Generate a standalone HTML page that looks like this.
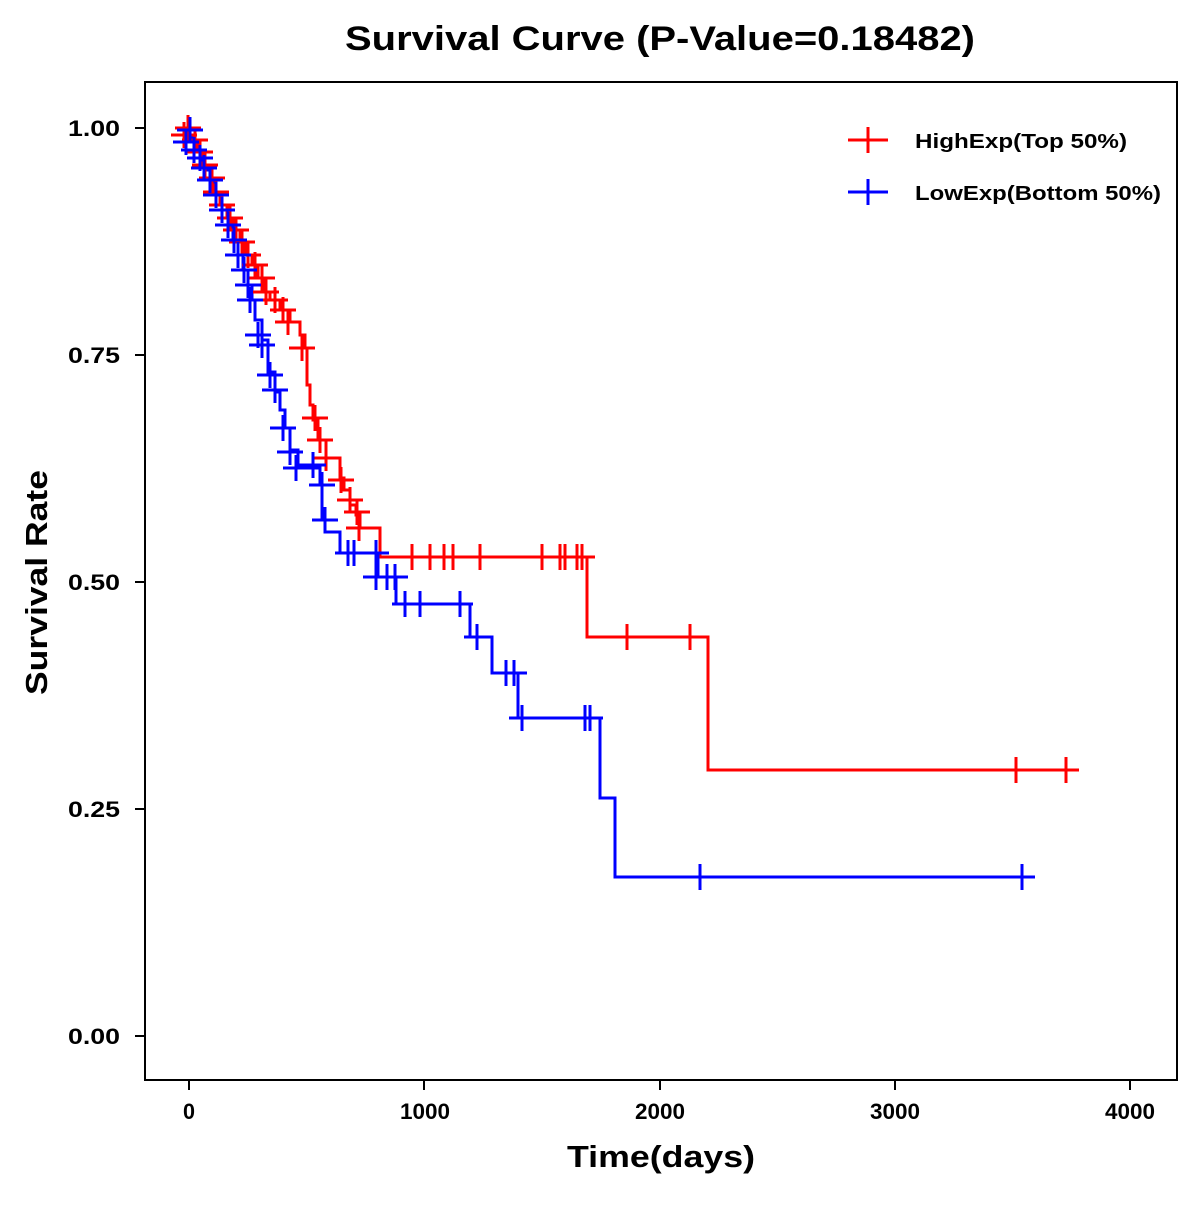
<!DOCTYPE html>
<html><head><style>body{margin:0;background:#fff}</style></head><body>
<svg width="1200" height="1200" xmlns="http://www.w3.org/2000/svg" font-family="Liberation Sans, Arial, sans-serif">
<defs>
<path id="tr" d="M-13 0H13M0 -13V13" stroke="#f00" stroke-width="3" fill="none"/>
<path id="tb" d="M-13 0H13M0 -13V13" stroke="#00f" stroke-width="3" fill="none"/>
</defs>
<text x="345" y="50" font-size="34" font-weight="bold" textLength="630" lengthAdjust="spacingAndGlyphs">Survival Curve (P-Value=0.18482)</text>
<rect x="145" y="82" width="1032" height="998" fill="none" stroke="#000" stroke-width="2"/>
<g stroke="#000" stroke-width="2">
<line x1="189" y1="1080" x2="189" y2="1090"/><line x1="424" y1="1080" x2="424" y2="1090"/><line x1="660" y1="1080" x2="660" y2="1090"/><line x1="895" y1="1080" x2="895" y2="1090"/><line x1="1130" y1="1080" x2="1130" y2="1090"/>
<line x1="135" y1="128" x2="145" y2="128"/><line x1="135" y1="355" x2="145" y2="355"/><line x1="135" y1="582" x2="145" y2="582"/><line x1="135" y1="809" x2="145" y2="809"/><line x1="135" y1="1036" x2="145" y2="1036"/>
</g>
<g font-size="22" font-weight="bold">
<text x="183" y="1119" textLength="12" lengthAdjust="spacingAndGlyphs">0</text>
<text x="400" y="1119" textLength="50" lengthAdjust="spacingAndGlyphs">1000</text>
<text x="635" y="1119" textLength="50" lengthAdjust="spacingAndGlyphs">2000</text>
<text x="870" y="1119" textLength="50" lengthAdjust="spacingAndGlyphs">3000</text>
<text x="1105" y="1119" textLength="50" lengthAdjust="spacingAndGlyphs">4000</text>
<text x="68" y="136" textLength="52" lengthAdjust="spacingAndGlyphs">1.00</text>
<text x="68" y="363" textLength="52" lengthAdjust="spacingAndGlyphs">0.75</text>
<text x="68" y="590" textLength="52" lengthAdjust="spacingAndGlyphs">0.50</text>
<text x="68" y="817" textLength="52" lengthAdjust="spacingAndGlyphs">0.25</text>
<text x="68" y="1044" textLength="52" lengthAdjust="spacingAndGlyphs">0.00</text>
</g>
<text x="567" y="1167" font-size="31" font-weight="bold" textLength="188" lengthAdjust="spacingAndGlyphs">Time(days)</text>
<text transform="translate(47,695) rotate(-90)" font-size="31" font-weight="bold" textLength="225" lengthAdjust="spacingAndGlyphs">Survival Rate</text>

<path fill="none" stroke="#f00" stroke-width="3" d="M180 128H190V140H197V152H203V165H210V178H215V192H220V205H227V218H233V230H240V242H245V255H252V265H258V278H263V292H270V300H280V310H290V322H300V335H305V348H307V385H310V405H313V420H318V440H326V458H340V478H344V490H350V505H356V515H360V528H380V557H587V637H708V770H1075"/>
<path fill="none" stroke="#00f" stroke-width="3" d="M183 128H190V138H195V150H200V160H205V170H210V182H216V195H222V210H228V225H233V240H238V255H243V270H248V285H252V300H255V320H262V340H268V372H275V392H280V410H285V428H290V450H298V465H310V468H320V485H322V520H325V532H340V553H378V577H396V604H470V637H492V673H518V718H600V798H615V877H1032"/>

<g>
<use href="#tr" x="188" y="128"/><use href="#tr" x="184" y="135"/><use href="#tr" x="195" y="140"/><use href="#tr" x="200" y="152"/><use href="#tr" x="205" y="165"/><use href="#tr" x="212" y="178"/><use href="#tr" x="216" y="192"/><use href="#tr" x="222" y="205"/><use href="#tr" x="230" y="218"/><use href="#tr" x="236" y="230"/><use href="#tr" x="242" y="242"/><use href="#tr" x="248" y="255"/><use href="#tr" x="255" y="265"/><use href="#tr" x="262" y="278"/><use href="#tr" x="266" y="292"/><use href="#tr" x="275" y="300"/><use href="#tr" x="283" y="310"/><use href="#tr" x="288" y="322"/><use href="#tr" x="302" y="348"/><use href="#tr" x="315" y="418"/><use href="#tr" x="320" y="440"/><use href="#tr" x="326" y="458"/><use href="#tr" x="341" y="480"/><use href="#tr" x="350" y="500"/><use href="#tr" x="357" y="512"/><use href="#tr" x="359" y="528"/>
<use href="#tr" x="412" y="557"/><use href="#tr" x="430" y="557"/><use href="#tr" x="444" y="557"/><use href="#tr" x="453" y="557"/><use href="#tr" x="480" y="557"/><use href="#tr" x="542" y="557"/><use href="#tr" x="560" y="557"/><use href="#tr" x="565" y="557"/><use href="#tr" x="577" y="557"/><use href="#tr" x="582" y="557"/>
<use href="#tr" x="627" y="637"/><use href="#tr" x="690" y="637"/><use href="#tr" x="1016" y="770"/><use href="#tr" x="1066" y="770"/>
</g>
<g>
<use href="#tb" x="190" y="130"/><use href="#tb" x="186" y="142"/><use href="#tb" x="194" y="150"/><use href="#tb" x="200" y="158"/><use href="#tb" x="204" y="168"/><use href="#tb" x="210" y="180"/><use href="#tb" x="216" y="195"/><use href="#tb" x="222" y="210"/><use href="#tb" x="228" y="225"/><use href="#tb" x="234" y="240"/><use href="#tb" x="238" y="255"/><use href="#tb" x="244" y="270"/><use href="#tb" x="248" y="285"/><use href="#tb" x="250" y="300"/><use href="#tb" x="258" y="335"/><use href="#tb" x="262" y="345"/><use href="#tb" x="270" y="375"/><use href="#tb" x="275" y="390"/><use href="#tb" x="283" y="428"/><use href="#tb" x="290" y="452"/><use href="#tb" x="296" y="468"/><use href="#tb" x="313" y="465"/><use href="#tb" x="322" y="485"/><use href="#tb" x="325" y="520"/>
<use href="#tb" x="348" y="553"/><use href="#tb" x="354" y="553"/><use href="#tb" x="376" y="553"/><use href="#tb" x="376" y="577"/><use href="#tb" x="387" y="577"/><use href="#tb" x="395" y="577"/><use href="#tb" x="405" y="604"/><use href="#tb" x="420" y="604"/><use href="#tb" x="460" y="604"/><use href="#tb" x="477" y="637"/><use href="#tb" x="506" y="673"/><use href="#tb" x="514" y="673"/><use href="#tb" x="522" y="718"/><use href="#tb" x="585" y="718"/><use href="#tb" x="590" y="718"/><use href="#tb" x="700" y="877"/><use href="#tb" x="1022" y="877"/>
</g>
<use href="#tr" x="868" y="140"/><line x1="848" y1="140" x2="888" y2="140" stroke="#f00" stroke-width="3"/>
<use href="#tb" x="868" y="192"/><line x1="848" y1="192" x2="888" y2="192" stroke="#00f" stroke-width="3"/>
<text x="915" y="148" font-size="20" font-weight="bold" textLength="212" lengthAdjust="spacingAndGlyphs">HighExp(Top 50%)</text>
<text x="915" y="200" font-size="20" font-weight="bold" textLength="246" lengthAdjust="spacingAndGlyphs">LowExp(Bottom 50%)</text>
</svg>
</body></html>
